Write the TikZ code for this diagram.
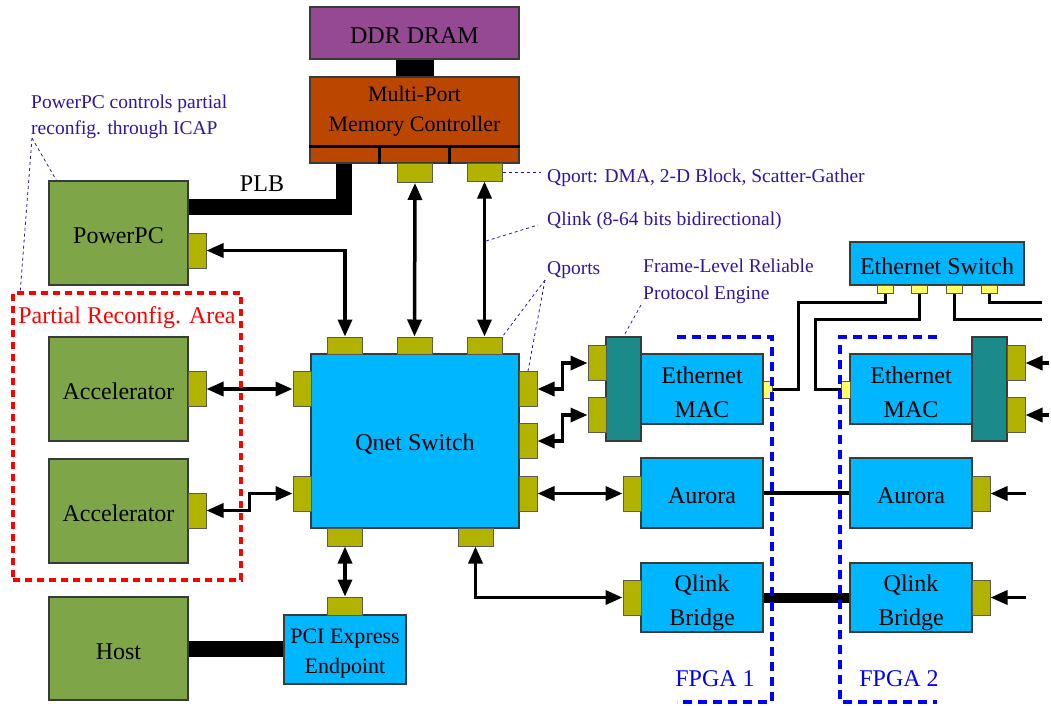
\documentclass[tikz,border=0pt]{standalone}
\usepackage{fontspec}
\setmainfont{Liberation Serif}
\usetikzlibrary{arrows.meta,calc}
\definecolor{cpurple}{RGB}{148,73,146}
\definecolor{corange}{RGB}{186,70,0}
\definecolor{cgreen}{RGB}{126,166,72}
\definecolor{ccyan}{RGB}{0,183,255}
\definecolor{cteal}{RGB}{26,138,138}
\definecolor{colive}{RGB}{178,178,0}
\definecolor{cyel}{RGB}{255,255,102}
\definecolor{boxline}{RGB}{55,60,55}
\definecolor{portline}{RGB}{90,90,80}
\definecolor{annc}{RGB}{50,20,160}
\definecolor{fblue}{RGB}{0,0,255}
\definecolor{pred}{RGB}{255,0,0}
\newcommand{\twolines}[3]{\rule{0pt}{#3pt}#1\\#2\rule[-6pt]{0pt}{6pt}}
\begin{document}
\begin{tikzpicture}[x=1pt,y=-1pt,
  >={Triangle[length=17pt,width=14pt]},
  sz/.style 2 args={minimum width=#1pt,minimum height=#2pt},
  box/.style={draw=boxline,line width=1.2pt,inner sep=0pt,align=center,font=\fontsize{24}{34}\selectfont},
  sbox/.style={box,execute at begin node={\rule{0pt}{22pt}}},
  port/.style={draw=portline,fill=colive,line width=1pt,inner sep=0pt},
  yport/.style={draw=portline,fill=cyel,line width=1pt,inner sep=0pt},
  darr/.style={line width=3.5pt,<->},
  sarr/.style={line width=3.5pt,->},
  eth/.style={line width=3pt,line join=miter},
  fat/.style={line width=#1pt,line join=miter},
  ann/.style={text=annc,align=left,inner sep=1pt,font=\fontsize{19.5}{26.5}\selectfont},
  annline/.style={draw=annc,line width=0.8pt,dash pattern=on 3pt off 3pt},
  lbl/.style={font=\fontsize{24}{30}\selectfont,inner sep=0pt},
  fpga/.style={draw=fblue,line width=4pt,dash pattern=on 9pt off 6pt},
]
\useasboundingbox (0,0) rectangle (1051,705);

% --- memory
\node[sbox,fill=cpurple,sz={209}{52}] (ddr) at (414.5,33) {DDR DRAM};
\node[box,fill=corange,sz={209}{86}] (mpmc) at (414.5,120) {};
\node[lbl,align=center,font=\fontsize{22}{30}\selectfont] (mpmctext) at (414.5,111) {Multi-Port\\Memory Controller};
\draw[line width=3pt] ($(mpmc.south west)+(0,-17)$) -- ($(mpmc.south east)+(0,-17)$);
\draw[line width=3pt] ($(mpmc.south west)+(70,-17)$) -- ($(mpmc.south west)+(70,0)$);
\draw[line width=3pt] ($(mpmc.south west)+(140,-17)$) -- ($(mpmc.south west)+(140,0)$);
\node[port,sz={35}{19}] (mp1) at (415,173) {};
\node[port,sz={35}{18}] (mp2) at (484.5,172) {};
\draw[line width=38pt] (ddr.south) -- (mpmc.north);

% --- left column
\node[sbox,fill=cgreen,sz={139}{104}] (ppc) at (118.5,233) {PowerPC};
\node[port,sz={18}{35}] (ppcp) at (197,250.5) {};
\node[sbox,fill=cgreen,sz={139}{104}] (acc1) at (118.5,389) {Accelerator};
\node[port,sz={18}{35}] (acc1p) at (197,389) {};
\node[sbox,fill=cgreen,sz={139}{104}] (acc2) at (118.5,511) {Accelerator};
\node[port,sz={18}{35}] (acc2p) at (197,510.5) {};
\node[sbox,fill=cgreen,sz={139}{103}] (host) at (118.5,648.5) {Host};

% --- Qnet switch
\node[sbox,fill=ccyan,sz={208}{174}] (qnet) at (415,441) {Qnet Switch};
\node[port,sz={35}{17}] (qT1) at (345,345.5) {};
\node[port,sz={35}{17}] (qT2) at (414.5,345.5) {};
\node[port,sz={35}{17}] (qT3) at (484.5,345.5) {};
\node[port,sz={18}{35}] (qL1) at (302,389) {};
\node[port,sz={18}{35}] (qL2) at (302,493.5) {};
\node[port,sz={18}{35}] (qR1) at (528,389) {};
\node[port,sz={18}{35}] (qR2) at (528,441) {};
\node[port,sz={18}{35}] (qR3) at (528,493.5) {};
\node[port,sz={35}{18}] (qB1) at (345,537) {};
\node[port,sz={35}{18}] (qB2) at (475.5,537) {};

\node[box,fill=ccyan,sz={122}{69},font=\fontsize{22}{30}\selectfont] (pci) at (345,649.5) {\twolines{PCI Express}{Endpoint}{23}};
\node[port,sz={35}{18}] (pciT) at (345,606) {};

% --- FPGA 1 side
\node[box,fill=cteal,sz={35}{104}] (eng1) at (623.5,389) {};
\node[port,sz={18}{35}] (e1p1) at (597,363) {};
\node[port,sz={18}{35}] (e1p2) at (597,415) {};
\node[box,fill=ccyan,sz={122}{70}] (mac1) at (702,389) {\twolines{Ethernet}{MAC}{28}};
\node[yport,sz={9}{17}] (mac1y) at (767.5,389.5) {};
\node[sbox,fill=ccyan,sz={122}{70}] (aur1) at (702,493) {Aurora};
\node[port,sz={18}{35}] (aur1p) at (632,493.5) {};
\node[box,fill=ccyan,sz={122}{69}] (qlb1) at (702,597.5) {\twolines{Qlink}{Bridge}{28}};
\node[port,sz={18}{35}] (qlb1p) at (632,597.5) {};

% --- FPGA 2 side
\node[box,fill=ccyan,sz={122}{70}] (mac2) at (911,389) {\twolines{Ethernet}{MAC}{28}};
\node[yport,sz={9}{17}] (mac2y) at (845.5,389.5) {};
\node[box,fill=cteal,sz={35}{104}] (eng2) at (989.5,389) {};
\node[port,sz={18}{35}] (e2p1) at (1016,363) {};
\node[port,sz={18}{35}] (e2p2) at (1016,415) {};
\node[sbox,fill=ccyan,sz={122}{70}] (aur2) at (911,493) {Aurora};
\node[port,sz={18}{35}] (aur2p) at (981,493.5) {};
\node[box,fill=ccyan,sz={122}{69}] (qlb2) at (911,597.5) {\twolines{Qlink}{Bridge}{28}};
\node[port,sz={18}{35}] (qlb2p) at (981,597.5) {};

% --- Ethernet switch
\node[sbox,fill=ccyan,sz={174}{43}] (esw) at (937,263.5) {Ethernet Switch};
\node[yport,sz={16}{8}] (es1) at (885,289) {};
\node[yport,sz={16}{8}] (es2) at (919.5,289) {};
\node[yport,sz={16}{8}] (es3) at (954.5,289) {};
\node[yport,sz={16}{8}] (es4) at (989.5,289) {};
\coordinate (k1) at (798,302);
\coordinate (k2) at (815,319);
\coordinate (k3) at (1042,319);
\coordinate (k4) at (1042,302);
\draw[eth] (es1.south) |- (k1) |- (mac1y.east);
\draw[eth] (es2.south) |- (k2) |- (mac2y.west);
\draw[eth] (es3.south) |- (k3);
\draw[eth] (es4.south) |- (k4);

% --- thick buses
\draw[fat=16] ($(mpmc.south west)+(35,0)$) |- ($(ppc.east)+(0,-26)$);
\node[lbl] (plb) at (262,184) {PLB};
\draw[fat=16] (host.east) -- (pci.west |- host.east);
\draw[fat=4] (aur1.east) -- (aur2.west);
\draw[fat=10] (qlb1.east) -- (qlb2.west);

% --- arrows
\draw[darr] (mp1.south) -- (qT2.north);
\draw[darr] (mp2.south) -- (qT3.north);
\draw[darr] (ppcp.east) -| (qT1.north);
\draw[darr] (acc1p.east) -- (qL1.west);
\draw[darr] (acc2p.east) -- ++(43,0) |- (qL2.west);
\draw[darr] (qR1.east) -- ++(25,0) |- (e1p1.west);
\draw[darr] (qR2.east) -- ++(25,0) |- (e1p2.west);
\draw[darr] (qR3.east) -- (aur1p.west);
\draw[darr] (qB1.south) -- (pciT.north);
\draw[darr] (qB2.south) |- (qlb1p.west);
\coordinate (r1) at (1049,363);
\coordinate (r2) at (1049,415);
\coordinate (r3) at (1026,493.5);
\coordinate (r4) at (1026,597.5);
\draw[sarr] (r1) -- (e2p1.east);
\draw[sarr] (r2) -- (e2p2.east);
\draw[sarr] (r3) -- (aur2p.east);
\draw[sarr] (r4) -- (qlb2p.east);

% --- partial reconfig area
\node[draw=pred,line width=3.5pt,dash pattern=on 7pt off 5pt,inner sep=0pt,sz={228}{287}] (pra) at (127,436.5) {};
\node[lbl,text=pred] (pratext) at (127,318) {Partial Reconfig. Area};

% --- FPGA brackets
\draw[fpga] (677,337) -- (772,337) -- (772,702) -- (677,702);
\draw[fpga] (937,337) -- (840,337) -- (840,702) -- (937,702);
\node[lbl,text=fblue] (f1) at (715,679) {FPGA 1};
\node[lbl,text=fblue] (f2) at (899,679) {FPGA 2};

% --- annotations
\node[ann,anchor=west] (annppc) at (30,117) {PowerPC controls partial\\reconfig. through ICAP};
\coordinate (ap) at (32,138);
\draw[annline] (ap) -- ($(ppc.north west)+(8,0)$);
\draw[annline] (ap) -- ($(pra.north west)+(9,0)$);

\node[ann,anchor=west] (annqport) at (546,178) {Qport: DMA, 2-D Block, Scatter-Gather};
\coordinate (qpl) at (541,172);
\draw[annline] (mp2.east) -- (qpl);

\node[ann,anchor=west] (annqlink) at (546,221) {Qlink (8-64 bits bidirectional)};
\coordinate (qlk) at (486,241);
\draw[annline] (qlk) -- ($(annqlink.west)+(-8,4)$);

\node[ann,anchor=west] (annqports) at (546,270) {Qports};
\coordinate (qps) at (545,280);
\draw[annline] (qps) -- (qT3.north east);
\draw[annline] (qps) -- (qR1.north);

\node[ann,anchor=west] (annfle) at (642,281.5) {Frame-Level Reliable\\Protocol Engine};
\coordinate (fle) at (641,305);
\draw[annline] (fle) -- (eng1.north);
\end{tikzpicture}
\end{document}
